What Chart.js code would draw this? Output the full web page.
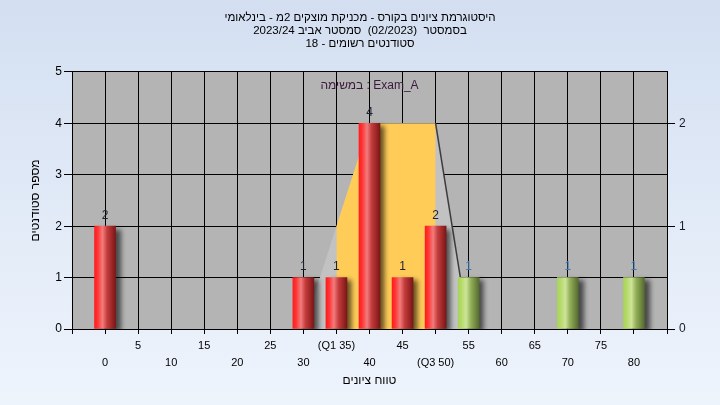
<!DOCTYPE html>
<html><head><meta charset="utf-8">
<script src="https://cdn.jsdelivr.net/npm/chart.js@4.4.0/dist/chart.umd.min.js"></script>
<style>html,body{margin:0;padding:0;background:#e6eef9}canvas{display:block}</style>
</head><body>
<canvas id="c" width="720" height="405" dir="rtl"></canvas>
<script>
// ---- data ----
const categories = [0,5,10,15,20,25,30,35,40,45,50,55,60,65,70,75,80];
const counts     = [2,0,0,0,0,0,1,1,4,1,2,1,0,0,1,0,1];
const tickLabels = {35:'(Q1 35)', 50:'(Q3 50)'};
const rangeX = [30,40,50,55];
const rangeY = [0,4,4,0];
const iqrX = [35,40,50];
const iqrY = [2,4,4];
const edgeX = [50,55];
const edgeY = [4,0];
const passMark = 55;
const titleLines = [
  'היסטוגרמת ציונים בקורס - מכניקת מוצקים 2מ - בינלאומי',
  'בסמסטר  (02/2023)  סמסטר אביב 2023/24',
  'סטודנטים רשומים - 18'
];
const taskLabel = 'במשימה : Exam_A';
const xTitle = 'טווח ציונים';
const yTitle = 'מספר סטודנטים';

const FONT = "'Liberation Sans', 'DejaVu Sans', sans-serif";
Chart.defaults.font.family = FONT;

const pts = (xs, ys) => xs.map((x,i)=>({x, y: ys[i]}));
const barData = categories.map((c,i)=>({x:c, y: counts[i] ? counts[i] : null}));

function barFill(ctx){
  const chart = ctx.chart;
  const raw = ctx.raw;
  const green = raw && raw.x >= passMark;
  if (!chart.chartArea || !chart.scales.x || !raw) return green ? '#9cc050' : '#e02020';
  const cx = chart.scales.x.getPixelForValue(raw.x);
  const half = 10.5;
  const g = chart.ctx.createLinearGradient(cx-half,0,cx+half,0);
  if (green){
    g.addColorStop(0,'#a8d45a'); g.addColorStop(0.15,'#b4da68');
    g.addColorStop(0.38,'#cde49a'); g.addColorStop(0.6,'#93b058');
    g.addColorStop(1,'#566a30');
  } else {
    g.addColorStop(0,'#ff1c1c'); g.addColorStop(0.15,'#ff3434');
    g.addColorStop(0.38,'#f27c7c'); g.addColorStop(0.6,'#c43c3c');
    g.addColorStop(1,'#7c1616');
  }
  return g;
}

const bgPlugin = {
  id:'bg',
  beforeDraw(chart){
    const {ctx,width,height,chartArea:a} = chart;
    ctx.save();
    const g = ctx.createLinearGradient(0,0,0,height);
    g.addColorStop(0,'#d3dff1'); g.addColorStop(1,'#eef4fc');
    ctx.fillStyle = g; ctx.fillRect(0,0,width,height);
    ctx.fillStyle = '#b4b4b4';
    ctx.fillRect(a.left,a.top,a.right-a.left,a.bottom-a.top);
    ctx.restore();
  }
};
const shadowPlugin = {
  id:'shadow',
  beforeDatasetDraw(chart,args){
    if (args.meta.type!=='bar') return;
    const ctx = chart.ctx; ctx.save();
    ctx.shadowColor='rgba(0,0,0,0.6)'; ctx.shadowBlur=5;
    ctx.shadowOffsetX=5; ctx.shadowOffsetY=3;
  },
  afterDatasetDraw(chart,args){
    if (args.meta.type!=='bar') return;
    chart.ctx.restore();
  }
};
const labelPlugin = {
  id:'labels',
  afterDatasetsDraw(chart){
    const ctx = chart.ctx;
    const meta = chart.getDatasetMeta(0);
    ctx.save();
    ctx.direction='ltr';
    ctx.font = '12px ' + FONT;
    ctx.textAlign='center'; ctx.textBaseline='middle';
    meta.data.forEach((el,i)=>{
      const v = counts[i];
      if (!v) return;
      ctx.fillStyle = categories[i] >= passMark ? '#3f78b4' : '#1a2233';
      ctx.fillText(String(v), el.x, el.y-11);
    });
    const a = chart.chartArea;
    ctx.fillStyle = '#3a1a3a';
    ctx.fillText(taskLabel, (a.left+a.right)/2, a.top+14);
    ctx.restore();
  }
};

new Chart(document.getElementById('c'), {
  type:'bar',
  data:{
    datasets:[
      { type:'bar', data: barData, order:0, backgroundColor: barFill, borderWidth:0, barThickness:21, yAxisID:'y' },
      { type:'line', data: pts(edgeX,edgeY), order:1, borderColor:'#3c3c3c', borderWidth:1.5, pointRadius:0, fill:false, tension:0, yAxisID:'y' },
      { type:'line', data: pts(iqrX,iqrY), order:2, borderWidth:0, borderColor:'rgba(0,0,0,0)', backgroundColor:'#ffcc58', pointRadius:0, fill:'origin', tension:0, yAxisID:'y' },
      { type:'line', data: pts(rangeX,rangeY), order:3, borderWidth:0, borderColor:'rgba(0,0,0,0)', backgroundColor:'#c2c2c2', pointRadius:0, fill:'origin', tension:0, yAxisID:'y' }
    ]
  },
  options:{
    responsive:false, animation:false, devicePixelRatio:1,
    layout:{padding:0},
    plugins:{
      legend:{display:false}, tooltip:{enabled:false},
      title:{display:true, text:titleLines, color:'#000', font:{size:11.5, weight:'normal', lineHeight:1.13}, padding:{top:11.5,bottom:21.5}}
    },
    scales:{
      x:{ type:'linear', min:-5, max:85, offset:false,
        ticks:{ stepSize:5, autoSkip:false, maxRotation:0, minRotation:0, padding:3.5, color:'#000', font:{size:11, lineHeight:1.55},
          callback(v){ if (v<0 || v>80) return ''; const l = tickLabels[v] || String(v); return (v/5)%2===1 ? l : ['', l]; } },
        grid:{ color:'#000', lineWidth:1, tickLength:5, offset:false },
        border:{ color:'#000' },
        title:{ display:true, text:xTitle, color:'#000', font:{size:12, lineHeight:1.2}, padding:{top:0,bottom:17} },
        afterFit(s){ s.height = 76; }
      },
      y:{ position:'left', min:0, max:5,
        ticks:{ stepSize:1, padding:2, color:'#000', font:{size:12} },
        grid:{ color:'#000', lineWidth:1, tickLength:8 },
        border:{ color:'#000' },
        title:{ display:true, text:yTitle, color:'#000', font:{size:12, lineHeight:1.2}, padding:{top:28,bottom:0} },
        afterFit(s){ s.width = 72; }
      },
      y1:{ position:'right', min:0, max:2.5,
        ticks:{ stepSize:1, includeBounds:false, padding:4, color:'#1a1a2a', font:{size:12} },
        grid:{ drawOnChartArea:false, color:'#000', lineWidth:1, tickLength:8 },
        border:{ color:'#000' },
        afterFit(s){ s.width = 53; }
      }
    }
  },
  plugins:[bgPlugin, shadowPlugin, labelPlugin]
});
</script>
</body></html>
